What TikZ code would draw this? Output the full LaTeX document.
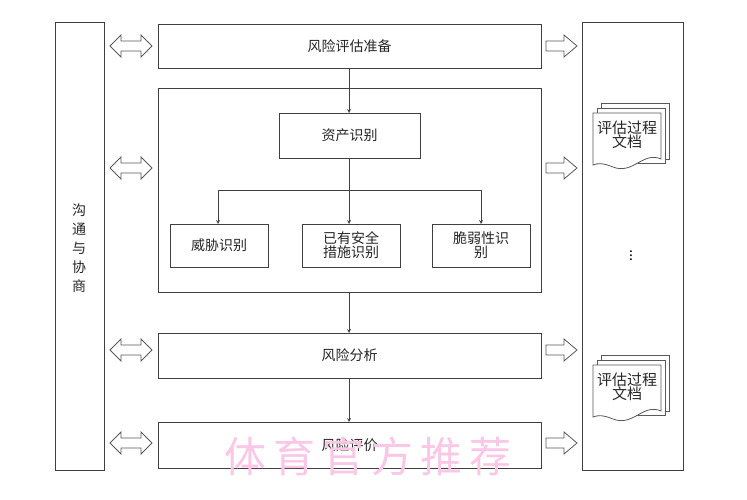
\documentclass[tikz,border=0pt]{standalone}
\usepackage{fontspec}
\setmainfont{Noto Sans CJK SC}
\begin{document}
\begin{tikzpicture}[x=1pt,y=-1pt,
  bx/.style={draw=black!75,line width=0.8pt,fill=white},
  txt/.style={font=\fontsize{14}{17}\selectfont,text=black!85},
  ar/.style={->,>=stealth,black!75,line width=0.8pt},
  blk/.style={draw=black!65,line width=0.8pt,fill=white}]
\useasboundingbox (0,0) rectangle (747,500);
% left & right
\draw[bx] (55,22) rectangle (104,470);
\node[txt,align=center,text width=14pt,font=\fontsize{14}{19}\selectfont] (comm) at (79,248) {沟\\通\\与\\协\\商};
\draw[bx] (582,22) rectangle (683,470);
% main boxes
\draw[bx] (158,24) rectangle (541,68); \node[txt] (prep) at (349.5,46) {风险评估准备};
\draw[bx] (158,88) rectangle (541,292); \coordinate (mtop) at (349,88); \coordinate (mbot) at (349,292);
\draw[bx] (279,113) rectangle (420,158); \node[txt] (asset) at (349.5,135.5) {资产识别};
\draw[bx] (170,224) rectangle (268,267); \node[txt] (thr) at (219,245.5) {威胁识别};
\draw[bx] (302,224) rectangle (400,267); \node[txt,align=center] (ctl) at (351,245.5) {已有安全\\[-3pt]措施识别};
\draw[bx] (432,224) rectangle (530,267); \node[txt,align=center] (vul) at (481,245.5) {脆弱性识\\[-3pt]别};
\draw[bx] (158,333) rectangle (541,378); \node[txt] (ana) at (349.5,355.5) {风险分析};
\draw[bx] (158,422) rectangle (541,468); \node[txt] (eva) at (349.5,445) {风险评价};
% connectors
\coordinate (a1) at (349,68); \coordinate (a2) at (349,113);
\draw[ar] (a1) -- (a2);
\coordinate (b0) at (349,158); \coordinate (bl) at (218,190); \coordinate (br) at (481,190);
\draw[black!75,line width=0.8pt] (218,190) -- (481,190);
\draw[ar] (b0) -- (349,224);
\draw[ar] (bl) -- (218,224);
\draw[ar] (br) -- (481,224);
\draw[ar] (mbot) -- (349,333);
\draw[ar] (349,378) -- (349,422);
% double arrows
\foreach \y in {46,168,350,443}{
  \draw[blk] (110,\y) -- (121,\y-11) -- (121,\y-5) -- (141,\y-5) -- (141,\y-11) -- (152,\y) -- (141,\y+11) -- (141,\y+5) -- (121,\y+5) -- (121,\y+11) -- cycle;
  \draw[blk] (546,\y-5) -- (564,\y-5) -- (564,\y-11) -- (577,\y) -- (564,\y+11) -- (564,\y+5) -- (546,\y+5) -- cycle;
}
% documents
\foreach \yy [count=\i] in {103,355}{
  \begin{scope}[shift={(593,\yy)}]
    \draw[blk] (8,0) rectangle (76,56);
    \draw[blk] (4,5) rectangle (72,60);
    \draw[blk] (0,10) -- (68,10) -- (68,56) .. controls (50,48) and (40,72) .. (20,64) .. controls (10,60) and (5,60) .. (0,62) -- cycle;
    \node[txt,align=center,font=\fontsize{15}{17}\selectfont] (doc\i) at (34,32) {评估过程\\[-3pt]文档};
  \end{scope}
}
\node[font=\fontsize{14}{16}\selectfont] (dots) at (631,253) {$\vdots$};
\node[font=\fontsize{42}{44}\selectfont,text=magenta!22] (wm) at (368,456) {体\,育\,官\,方\,推\,荐};
\end{tikzpicture}
\end{document}
